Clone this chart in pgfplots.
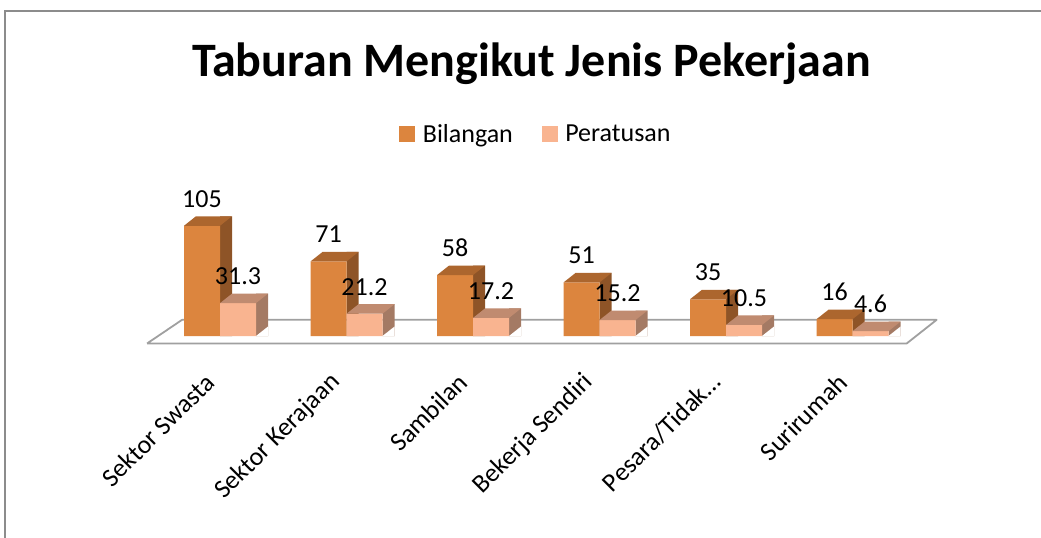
\documentclass[border=0pt]{standalone}
\usepackage{pgfplots}
\pgfplotsset{compat=1.18}
\usepackage{pgfplotstable}
\usepackage{fontspec}
\setmainfont{Carlito}
\definecolor{bF}{RGB}{220,133,62}
\definecolor{bT}{RGB}{172,102,46}
\definecolor{bS}{RGB}{142,84,39}
\definecolor{pF}{RGB}{249,180,144}
\definecolor{pT}{RGB}{192,139,112}
\definecolor{pS}{RGB}{164,122,100}
\definecolor{framec}{RGB}{140,140,140}
\definecolor{floorc}{RGB}{160,160,160}
\newcommand\lab{\fontsize{26}{30}\selectfont}
\newcommand\ttl{\bfseries\fontsize{48}{52}\selectfont}
\pgfplotstableread{
x val
0 105
1 71
2 58
3 51
4 35
5 16
}\bil
\pgfplotstableread{
x val
0 31.3
1 21.2
2 17.2
3 15.2
4 10.5
5 4.6
}\per
\pgfplotsset{
  front/.style n args={2}{forget plot, ybar, bar width=36pt, bar shift=#2, fill=#1, draw=none},
  side/.style n args={2}{forget plot, ybar, bar width=12pt, bar shift=#2, fill=#1, draw=none},
  topface/.style n args={2}{
    forget plot, only marks, mark=none, draw=none,
    nodes near coords={\tikz\fill[#1] (0pt,0pt) -- (12pt,9.5pt) -- (48pt,9.5pt) -- (36pt,0pt) -- cycle;},
    every node near coord/.append style={anchor=south west, inner sep=0pt, outer sep=0pt, xshift=#2},
  },
  gap/.style={
    forget plot, only marks, mark=none, draw=none,
    nodes near coords={\tikz\fill[white] (0pt,0pt) -- (12pt,0pt) -- (12pt,9.5pt) -- cycle;},
    every node near coord/.append style={anchor=south west, inner sep=0pt, outer sep=0pt, xshift=#1},
  },
  vlabel/.style={
    forget plot, only marks, mark=none, draw=none,
    nodes near coords,
    every node near coord/.append style={anchor=base, inner sep=0pt, yshift=18.5pt, xshift=#1, text=black, font=\lab},
  }
}
\begin{document}
\begin{tikzpicture}
\begin{axis}[
  x=126.5pt, y=1.05pt,
  xmin=-1.7391, xmax=6.4901, ymin=-40, ymax=320,
  clip=false,
  axis line style={draw=none},
  ytick=\empty,
  xtick={0,1,2,3,4,5},
  xticklabels={Sektor Swasta,Sektor Kerajaan,Sambilan,Bekerja Sendiri,Pesara/Tidak…,Surirumah},
  major tick length=0pt,
  xticklabel style={xshift=-10pt, rotate=45, anchor=east, inner sep=0pt, font=\lab},
  /pgf/number format/assume math mode=true,
  legend columns=2,
  legend style={at={(rel axis cs:0.5149,0.6457)}, anchor=center, draw=none, fill=none, font=\lab,
    /tikz/every odd column/.append style={column sep=6pt},
    /tikz/every even column/.append style={column sep=27pt}},
]
\addlegendimage{legend image code/.code={\fill[bF] (0pt,-7.5pt) rectangle (15pt,7.5pt);}}
\addlegendentry{Bilangan}
\addlegendimage{legend image code/.code={\fill[pF] (0pt,-7.5pt) rectangle (15pt,7.5pt);}}
\addlegendentry{Peratusan}
\addplot[forget plot, mark=none, fill=white, draw=floorc, line width=1.8pt, line join=round]
  coordinates {(-0.577,-7.14) (5.428,-7.14) (5.665,15.4) (-0.300,15.4) (-0.577,-7.14)};
% Bilangan
\addplot[side={bS}{6pt}] table[x=x, y expr=\thisrow{val}+9.048] {\bil};
\addplot[front={bF}{-18pt}] table[x=x, y=val] {\bil};
\addplot[topface={bT}{-36pt}] table[x=x, y=val] {\bil};
% Peratusan
\addplot[side={pS}{42pt}] table[x=x, y expr=\thisrow{val}+9.048] {\per};
\addplot[front={pF}{18pt}] table[x=x, y=val] {\per};
\addplot[topface={pT}{0pt}] table[x=x, y=val] {\per};
\addplot[gap=36pt] table[x=x, y expr=0] {\per};
% labels
\addplot[vlabel=-18pt] table[x=x, y=val] {\bil};
\addplot[vlabel=18pt] table[x=x, y=val] {\per};
\node[anchor=base, font=\ttl] at (axis cs:2.462,246.7) {Taburan Mengikut Jenis Pekerjaan};
\draw[color=framec, line width=1.5pt] (axis cs:-1.700,-200) -- (axis cs:-1.700,309.5) -- (axis cs:7,309.5);
\coordinate (BL) at (axis cs:-1.7391,-191.43);
\coordinate (TR) at (axis cs:6.4901,320);
\end{axis}
\pgfresetboundingbox
\useasboundingbox (BL) rectangle (TR);
\end{tikzpicture}
\end{document}
